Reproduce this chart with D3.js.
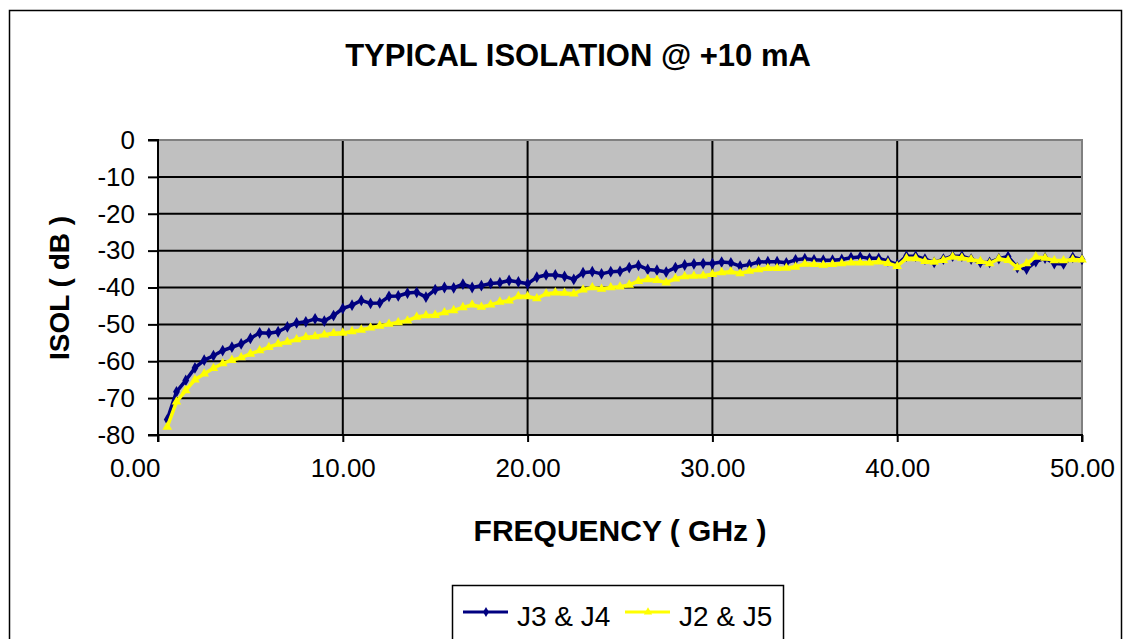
<!DOCTYPE html>
<html><head><meta charset="utf-8">
<script src="https://cdn.jsdelivr.net/npm/d3@7"></script>
<style>
html,body{margin:0;padding:0;background:#fff;}
text{font-family:"Liberation Sans",Arial,sans-serif;}
</style></head>
<body>
<svg id="chart" width="1131" height="639"></svg>
<script>
const title = "TYPICAL ISOLATION @ +10 mA";
const xTitle = "FREQUENCY ( GHz )";
const yTitle = "ISOL ( dB )";
const seriesNames = ["J3 & J4", "J2 & J5"];
const seriesColors = ["#000080", "#FFFF00"];
const xTicks = [0, 10, 20, 30, 40, 50];
const yTicks = [0, -10, -20, -30, -40, -50, -60, -70, -80];
const freqStart = 0.5, freqStep = 0.5;
const j3j4 = [-75.8,-68.3,-65.2,-61.8,-59.7,-58.5,-57.1,-56.2,-55.3,-53.8,
 -52.3,-52.4,-52.0,-50.7,-49.6,-49.3,-48.5,-49.1,-47.6,-45.7,
 -44.8,-43.5,-44.3,-44.2,-42.4,-42.3,-41.5,-41.3,-42.6,-40.6,
 -40.0,-40.1,-39.1,-40.0,-39.5,-38.9,-38.7,-38.1,-38.5,-39.0,
 -37.2,-36.6,-36.6,-37.0,-37.8,-36.0,-35.7,-36.3,-35.7,-35.6,
 -34.6,-34.0,-35.1,-35.3,-35.8,-34.6,-33.9,-33.6,-33.5,-33.5,
 -33.1,-33.3,-34.2,-33.8,-33.1,-33.0,-33.0,-33.3,-32.5,-32.2,
 -32.5,-32.6,-32.6,-32.4,-31.9,-31.7,-32.1,-32.1,-32.8,-33.8,
 -31.5,-31.5,-32.3,-33.2,-32.3,-31.5,-31.5,-32.3,-33.2,-33.2,
 -32.2,-31.6,-34.6,-35.0,-33.0,-32.0,-33.5,-33.6,-31.8,-32.4];
const j2j5 = [-77.8,-71.0,-67.9,-65.0,-63.4,-61.9,-60.6,-59.7,-59.0,-58.0,
 -57.1,-56.2,-55.3,-54.8,-54.1,-53.5,-53.3,-52.8,-52.4,-52.3,
 -51.9,-51.5,-50.9,-50.4,-49.9,-49.5,-49.0,-48.0,-47.6,-47.5,
 -46.8,-46.2,-45.4,-44.7,-45.3,-44.7,-43.9,-43.6,-42.4,-42.4,
 -43.0,-41.7,-41.4,-41.5,-41.7,-40.6,-40.0,-40.4,-40.0,-39.8,
 -39.3,-38.3,-37.8,-38.0,-38.7,-37.6,-37.0,-36.9,-36.8,-36.4,
 -35.9,-35.7,-36.2,-35.5,-35.1,-34.8,-34.8,-34.7,-34.4,-33.6,
 -33.7,-33.9,-33.7,-33.5,-33.3,-33.3,-33.3,-33.0,-33.4,-34.2,
 -32.1,-32.1,-32.9,-33.1,-32.6,-31.7,-32.0,-32.4,-32.9,-33.5,
 -32.2,-32.6,-34.6,-33.5,-31.7,-32.0,-32.7,-32.7,-32.4,-32.5];

const svg = d3.select("#chart");
const L = 158, R = 1082, T = 140, B = 435;
const x = d3.scaleLinear().domain([0, 50]).range([L, R]);
const y = d3.scaleLinear().domain([-80, 0]).range([B, T]);

// outer frame
svg.append("rect").attr("x", 9.5).attr("y", 10.5).attr("width", 1112).attr("height", 660)
  .attr("fill", "#fff").attr("stroke", "#000").attr("stroke-width", 1.5);

// plot area
svg.append("rect").attr("x", L).attr("y", T).attr("width", R - L).attr("height", B - T)
  .attr("fill", "#C0C0C0");

// gridlines
svg.append("g").selectAll("line").data(yTicks.filter(d => d !== 0 && d !== -80)).join("line")
  .attr("x1", L).attr("x2", R).attr("y1", d => y(d)).attr("y2", d => y(d))
  .attr("stroke", "#000").attr("stroke-width", 2);
svg.append("g").selectAll("line").data(xTicks.filter(d => d !== 0 && d !== 50)).join("line")
  .attr("y1", T).attr("y2", B).attr("x1", d => x(d)).attr("x2", d => x(d))
  .attr("stroke", "#000").attr("stroke-width", 2);

// top/right border gray
svg.append("path").attr("d", `M${L},${T}H${R}V${B}`).attr("fill", "none")
  .attr("stroke", "#808080").attr("stroke-width", 2);

// series
const makeData = vals => vals.map((v, i) => ({f: freqStart + i * freqStep, v}));
const line = d3.line().x(d => x(d.f)).y(d => y(d.v));
const series = [
  {data: makeData(j3j4), color: seriesColors[0], marker: d3.symbolDiamond},
  {data: makeData(j2j5), color: seriesColors[1], marker: d3.symbolTriangle}
];
series.forEach(s => {
  svg.append("path").datum(s.data).attr("d", line).attr("fill", "none")
    .attr("stroke", s.color).attr("stroke-width", 3.5).attr("stroke-linejoin", "round");
  const sym = d3.symbol().type(s.marker).size(40);
  svg.append("g").selectAll("path").data(s.data).join("path")
    .attr("transform", d => `translate(${x(d.f)},${y(d.v)})`)
    .attr("d", sym).attr("fill", s.color);
});

// axes
const yAxis = d3.axisLeft(y).tickValues(yTicks).tickFormat(d => String(d)).tickSize(10).tickPadding(13);
const gy = svg.append("g").attr("transform", `translate(${L},0)`).call(yAxis);
const xAxis = d3.axisBottom(x).tickValues(xTicks).tickFormat(d3.format(".2f")).tickSize(7).tickPadding(17);
const gx = svg.append("g").attr("transform", `translate(0,${B})`).call(xAxis);
[gx, gy].forEach(g => {
  g.select(".domain").attr("stroke", "#000").attr("stroke-width", 2);
  g.selectAll(".tick line").attr("stroke", "#000").attr("stroke-width", 2);
  g.selectAll(".tick text").attr("font-size", 26).attr("fill", "#000")
    .attr("font-family", "Liberation Sans, Arial, sans-serif");
});
// first category label sits left of the tick, as in the reference
gx.selectAll(".tick text").filter(d => d === 0).attr("text-anchor", "end").attr("x", 2);
gy.select(".domain").attr("d", `M-10,${T}H0V${B}H-10`);
gx.select(".domain").attr("d", `M${L},7V0H${R}V7`);

// titles
svg.append("text").attr("x", 578).attr("y", 66).attr("text-anchor", "middle")
  .attr("font-size", 31).attr("font-weight", "bold").text(title);
svg.append("text").attr("x", 620).attr("y", 541).attr("text-anchor", "middle")
  .attr("font-size", 30).attr("font-weight", "bold").text(xTitle);
svg.append("text").attr("transform", "translate(69,288) rotate(-90)").attr("text-anchor", "middle")
  .attr("font-size", 28).attr("font-weight", "bold").text(yTitle);

// legend
svg.append("rect").attr("x", 452.5).attr("y", 585.5).attr("width", 331).attr("height", 70)
  .attr("fill", "#fff").attr("stroke", "#000").attr("stroke-width", 1.5);
const legendX = [463, 625];
series.forEach((s, i) => {
  const lx = legendX[i];
  svg.append("line").attr("x1", lx).attr("x2", lx + 45).attr("y1", 612).attr("y2", 612)
    .attr("stroke", s.color).attr("stroke-width", 3);
  const sym = d3.symbol().type(s.marker).size(30);
  svg.append("path").attr("transform", `translate(${lx + 23},612)`).attr("d", sym).attr("fill", s.color);
  svg.append("text").attr("x", lx + 54).attr("y", 626).attr("font-size", 28).text(seriesNames[i]);
});
</script>
</body></html>
